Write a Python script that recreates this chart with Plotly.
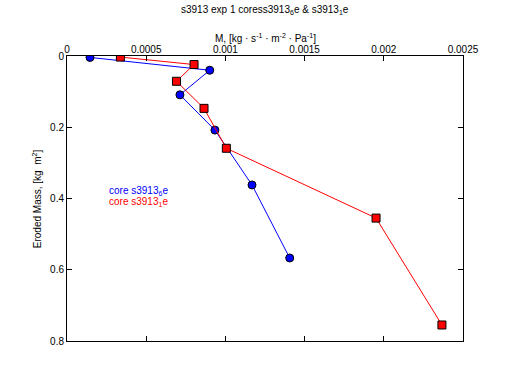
import plotly.graph_objects as go

blue_x = [0.000145, 0.000901, 0.000713, 0.000934, 0.001168, 0.001406]
blue_y = [0.004, 0.040, 0.109, 0.208, 0.362, 0.567]
red_x = [0.000337, 0.000802, 0.000691, 0.000865, 0.001006, 0.001951, 0.002367]
red_y = [0.003, 0.024, 0.071, 0.147, 0.259, 0.455, 0.755]
x_ticks = [0, 0.0005, 0.001, 0.0015, 0.002, 0.0025]
x_ticklabels = ["0", "0.0005", "0.001", "0.0015", "0.002", "0.0025"]
y_ticks = [0, 0.2, 0.4, 0.6, 0.8]
y_ticklabels = ["0", "0.2", "0.4", "0.6", "0.8"]

FONT = "Liberation Sans, Arial, sans-serif"

fig = go.Figure()
fig.add_trace(go.Scatter(x=blue_x, y=blue_y, mode="lines+markers",
                         line=dict(color="#0000ff", width=1),
                         marker=dict(symbol="circle", size=8, color="#0000ff",
                                     line=dict(color="black", width=1)),
                         showlegend=False))
fig.add_trace(go.Scatter(x=red_x, y=red_y, mode="lines+markers",
                         line=dict(color="#ff0000", width=1),
                         marker=dict(symbol="square", size=8, color="#ff0000",
                                     line=dict(color="black", width=1)),
                         showlegend=False))

fig.update_layout(
    width=512, height=383,
    margin=dict(l=67, r=49, t=56, b=42, autoexpand=False),
    plot_bgcolor="white", paper_bgcolor="white",
    font=dict(family=FONT, size=10, color="black"),
    xaxis=dict(side="top", range=[0, 0.0025], tickvals=x_ticks, ticktext=x_ticklabels,
               ticks="inside", ticklen=5, tickcolor="black", mirror="ticks",
               showline=True, linecolor="black", linewidth=1, automargin=False,
               showgrid=False, zeroline=False, tickfont=dict(size=10)),
    yaxis=dict(range=[0.8, 0], tickvals=y_ticks, ticktext=y_ticklabels,
               ticks="inside", ticklen=5, tickcolor="black", mirror="ticks",
               showline=True, linecolor="black", linewidth=1, automargin=False,
               showgrid=False, zeroline=False, tickfont=dict(size=10)),
    annotations=[
        dict(text="s3913 exp 1 coress3913<sub>6</sub>e & s3913<sub>1</sub>e",
             xref="paper", yref="paper", x=0.5, y=1.162, showarrow=False,
             xanchor="center", yanchor="middle", font=dict(size=10)),
        dict(text="M, [kg · s<sup>-1</sup> · m<sup>-2</sup> · Pa<sup>-1</sup>]",
             xref="paper", yref="paper", x=0.5, y=1.063, showarrow=False,
             xanchor="center", yanchor="middle", font=dict(size=10)),
        dict(text="Eroded Mass, [kg  m<sup>2</sup>]",
             xref="paper", yref="paper", x=-0.0765, y=0.5, showarrow=False,
             xanchor="center", yanchor="middle",
             textangle=-90, font=dict(size=10)),
        dict(text="core s3913<sub>6</sub>e", x=0.000251, y=0.379, xanchor="left",
             yanchor="middle", showarrow=False, font=dict(size=10, color="#0000ff")),
        dict(text="core s3913<sub>1</sub>e", x=0.000251, y=0.409, xanchor="left",
             yanchor="middle", showarrow=False, font=dict(size=10, color="#ff0000")),
    ],
)

try:
    fig.update_xaxes(ticklabelstandoff=-2)
except Exception:
    pass

fig.write_html("out.html", config={"displayModeBar": False},
               post_script="document.body.style.margin='0';document.body.style.padding='0';")
